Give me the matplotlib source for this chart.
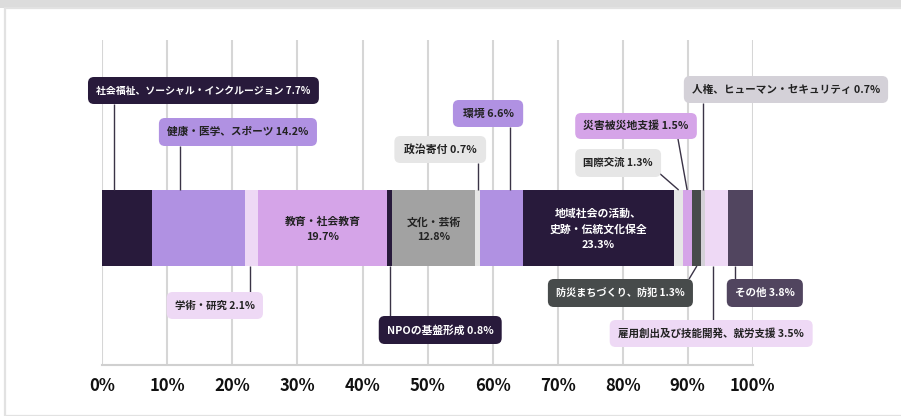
import matplotlib.pyplot as plt
from matplotlib.patches import FancyBboxPatch, Rectangle
import numpy as np

plt.rcParams['font.family'] = ['Noto Sans CJK JP', 'DejaVu Sans']

# 分野別の構成比 (%)
categories = [
    "社会福祉、ソーシャル・インクルージョン",
    "健康・医学、スポーツ",
    "学術・研究",
    "教育・社会教育",
    "NPOの基盤形成",
    "文化・芸術",
    "政治寄付",
    "環境",
    "地域社会の活動、史跡・伝統文化保全",
    "国際交流",
    "災害被災地支援",
    "防災まちづくり、防犯",
    "人権、ヒューマン・セキュリティ",
    "雇用創出及び技能開発、就労支援",
    "その他",
]
shares = [7.7, 14.2, 2.1, 19.7, 0.8, 12.8, 0.7, 6.6, 23.3, 1.3, 1.5, 1.3, 0.7, 3.5, 3.8]
colors = ["#281a3b", "#b091e2", "#eed9f5", "#d5a4e8", "#281a3b", "#a2a2a2", "#e6e6e6",
          "#b091e2", "#281a3b", "#e6e6e6", "#d5a4e8", "#474b4b", "#d4d1d8", "#eed9f5",
          "#51455f"]
dark = {0, 4, 8, 11, 14}
tick_labels = [f"{t}%" for t in range(0, 101, 10)]

# 帯の中に書くラベル
inline = {3: "教育・社会教育", 5: "文化・芸術", 8: "地域社会の活動、\n史跡・伝統文化保全"}

# 吹き出し: index -> (箱x0, 箱x1 [%], 箱y0, 箱y1 [px], 帯上の位置(割合), 線の端x [%], 線の端y [px])
callouts = {
    0: (-2.2, 33.3, 77, 104, 0.23, None, 104),
    1: (8.7, 33.0, 118, 146, 0.30, None, 146),
    6: (44.9, 59.0, 136, 163, 0.70, None, 163),
    7: (53.9, 64.7, 100, 127, 0.71, None, 127),
    10: (72.7, 91.4, 113, 139, 0.47, 88.5, 139),
    9: (72.7, 85.9, 149, 177, 0.54, 85.6, 173),
    12: (89.4, 120.8, 76, 103, 0.57, None, 103),
    2: (9.9, 24.7, 292, 319, 0.38, None, 292),
    4: (42.5, 61.4, 316, 344, 0.60, None, 316),
    11: (68.5, 90.8, 279, 307, 0.54, 90.2, 279),
    14: (96.0, 107.7, 279, 307, 0.29, None, 279),
    13: (78.0, 109.2, 320, 347, 0.34, None, 320),
}

W, H = 901, 416
fig = plt.figure(figsize=(W / 100, H / 100), dpi=100)
fig.patch.set_facecolor("white")

# 外枠
fig.add_artist(Rectangle((0, 1 - 7.5 / H), 1, 7.5 / H, transform=fig.transFigure,
                         color="#dcdcdc", lw=0))
fig.add_artist(Rectangle((4.5 / W, 0), 1, 1 - 7.5 / H, transform=fig.transFigure,
                         facecolor="none", edgecolor="#e2e2e2", lw=1.6))

x0px, x1px, ytop, ybot = 102.3, 752.8, 40, 365
ax = fig.add_axes([x0px / W, (H - ybot) / H, (x1px - x0px) / W, (ybot - ytop) / H])
ax.set_xlim(0, 100)
ax.set_ylim(ybot, ytop)
pxpp = (x1px - x0px) / 100  # px / %

starts = np.concatenate([[0], np.cumsum(shares)[:-1]])
bar_y, bar_h = 228, 76
ax.barh(bar_y, shares, left=starts, height=bar_h, color=colors, lw=0, zorder=2)

ax.set_xticks(range(0, 101, 10))
ax.set_xticklabels(tick_labels, fontsize=12, fontweight="bold", color="#111111")
ax.set_yticks([])
ax.tick_params(axis="x", length=0, pad=8.5)
ax.grid(axis="x", color="#d6d6d6", lw=1.5, zorder=0)
ax.set_axisbelow(True)
for s in ("top", "right", "left"):
    ax.spines[s].set_visible(False)
ax.spines["bottom"].set_color("#d0d0d0")
ax.spines["bottom"].set_linewidth(1.5)

fs = 7.8
for i, label in inline.items():
    cx = starts[i] + shares[i] / 2
    tc = "white" if i in dark else "#222222"
    ax.text(cx, bar_y + 1.5, f"{label}\n{shares[i]}%", ha="center", va="center",
            fontsize=fs, fontweight="bold", color=tc, linespacing=1.6, zorder=3)

renderer = fig.canvas.get_renderer()
r = 6.0
for i, (bx0, bx1, by0, by1, frac, lx, ly) in callouts.items():
    box = FancyBboxPatch((bx0, by0), bx1 - bx0, by1 - by0,
                         boxstyle=f"round,pad=0,rounding_size={r / pxpp}",
                         mutation_aspect=pxpp, facecolor=colors[i], edgecolor="none",
                         clip_on=False, zorder=4)
    ax.add_patch(box)
    tc = "white" if i in dark else "#222222"
    t = ax.text((bx0 + bx1) / 2, (by0 + by1) / 2, f"{categories[i]} {shares[i]}%",
                ha="center", va="center", fontsize=fs, fontweight="bold", color=tc,
                clip_on=False, zorder=5)
    # 長いラベルは箱に収まるよう縮める
    room = (bx1 - bx0) * pxpp - 16
    tw = t.get_window_extent(renderer).width
    if tw > room:
        t.set_fontsize(fs * room / tw)
    ax_x = starts[i] + frac * shares[i]
    edge = bar_y - bar_h / 2 if ly < bar_y else bar_y + bar_h / 2
    ax.plot([ax_x, ax_x if lx is None else lx], [edge, ly], color="#3a3346",
            lw=1, zorder=3, clip_on=False, solid_capstyle="butt")

fig.savefig("out.png", dpi=100)
